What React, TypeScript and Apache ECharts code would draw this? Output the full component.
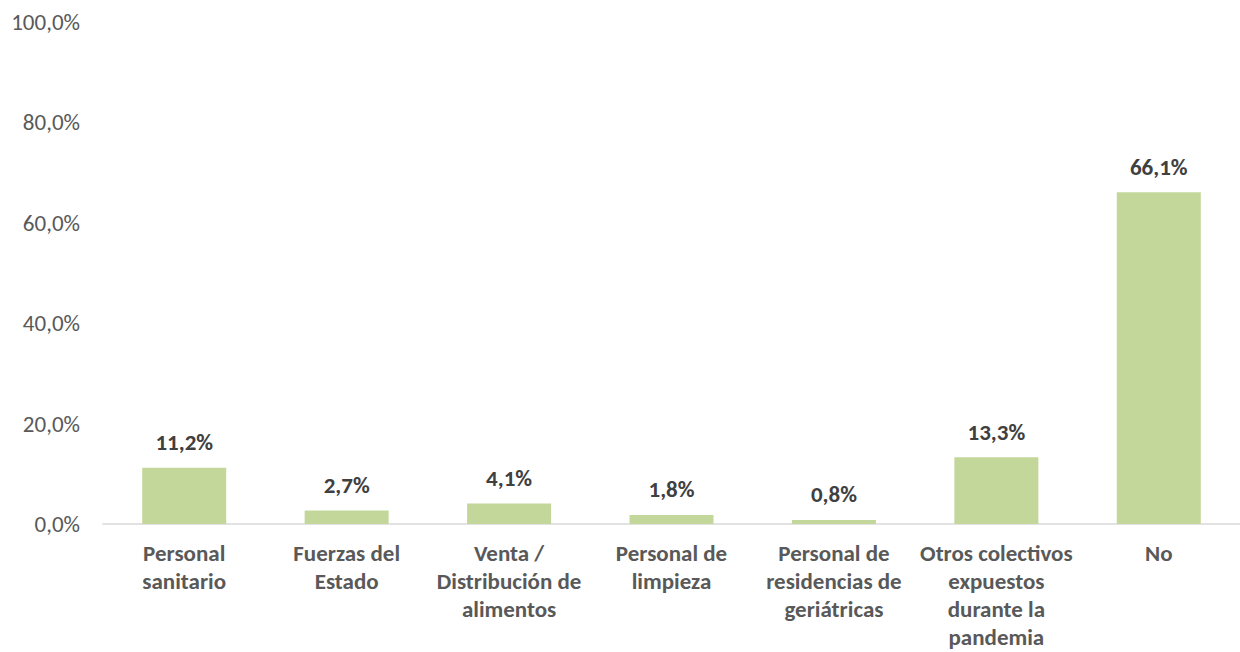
import React, { useEffect, useRef } from "react";
import * as echarts from "echarts";

const categories = [
  "Personal\nsanitario",
  "Fuerzas del\nEstado",
  "Venta /\nDistribución de\nalimentos",
  "Personal de\nlimpieza",
  "Personal de\nresidencias de\ngeriátricas",
  "Otros colectivos\nexpuestos\ndurante la\npandemia",
  "No",
];
const values = [11.2, 2.7, 4.1, 1.8, 0.8, 13.3, 66.1];
const yTicks = { min: 0, max: 100, interval: 20 };

const FONT = "Carlito, Lato, sans-serif";
const fmt = (v: number) => v.toFixed(1).replace(".", ",") + "%";

export default function App() {
  const ref = useRef<HTMLDivElement>(null);
  useEffect(() => {
    if (!ref.current) return;
    const chart = echarts.init(ref.current, undefined, { renderer: "svg" });
    chart.setOption({
      animation: false,
      grid: { left: 103, right: 0, top: 22, bottom: 128, containLabel: false },
      xAxis: {
        type: "category",
        data: categories,
        axisLine: { lineStyle: { color: "#d9d9d9", width: 1.5 } },
        axisTick: { show: false },
        axisLabel: {
          interval: 0,
          color: "#595959",
          fontFamily: FONT,
          fontWeight: "bold",
          fontSize: 23,
          lineHeight: 28,
          margin: 15,
        },
      },
      yAxis: {
        type: "value",
        min: yTicks.min,
        max: yTicks.max,
        interval: yTicks.interval,
        splitLine: { show: false },
        axisLine: { show: false },
        axisTick: { show: false },
        axisLabel: {
          color: "#595959",
          fontFamily: FONT,
          fontSize: 23,
          margin: 23,
          formatter: (v: number) => fmt(v),
        },
      },
      series: [
        {
          type: "bar",
          data: values,
          barWidth: 84,
          itemStyle: { color: "#C4D79B" },
          label: {
            show: true,
            position: "top",
            distance: 14,
            color: "#404040",
            fontFamily: FONT,
            fontWeight: "bold",
            fontSize: 23,
            formatter: (p: any) => fmt(p.value),
          },
        },
      ],
    });
    return () => chart.dispose();
  }, []);
  return (
    <div
      ref={ref}
      style={{ position: "fixed", left: 0, top: 0, width: 1240, height: 652, background: "#fff" }}
    />
  );
}
